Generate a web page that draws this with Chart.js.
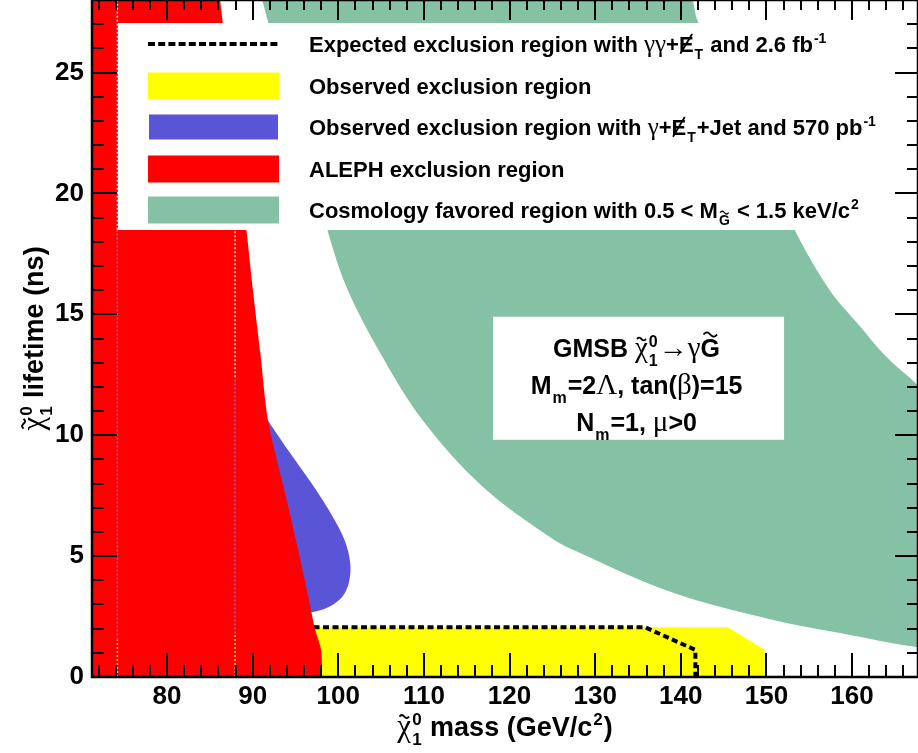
<!DOCTYPE html>
<html>
<head>
<meta charset="utf-8">
<script src="https://cdn.jsdelivr.net/npm/chart.js@4.4.0/dist/chart.umd.min.js"></script>
<style>
  html, body { margin: 0; padding: 0; background: #fff; }
  #wrap { width: 918px; height: 753px; }
</style>
</head>
<body>
<div id="wrap"><canvas id="limits"></canvas></div>
<script>
// ---- axes ----
const massRange = [71.24, 167.7];     // GeV/c^2
const lifetimeRange = [0, 28];        // ns
const massMajor = 10, massMinor = 2;
const lifeMajor = 5, lifeMinor = 1;

// ---- ALEPH exclusion: right-hand boundary, top to bottom ----
const alephMass     = [85.7, 86.2, 86.5, 89.3, 90.0, 90.9, 91.8, 94.0, 96.1, 97.3, 98.0, 98.1, 98.1];
const alephLifetime = [29.5, 28.0, 27.1, 18.4, 16.1, 13.4, 10.6, 7.3, 4.0, 1.95, 1.12, 0, -0.5];

// ---- gamma+MET+jet (570 pb-1) observed exclusion, outer boundary ----
const jetMass     = [91.8, 94.1, 96.9, 99.4, 100.8, 101.4, 101.3, 100.8, 100.0, 98.7, 97.05, 90.0, 90.0];
const jetLifetime = [10.6, 9.4, 8.0, 6.6, 5.6, 4.7, 4.0, 3.5, 3.15, 2.86, 2.69, 2.5, 10.6];

// ---- observed exclusion (yellow) ----
const observedMass     = [70, 70, 145.5, 149.8, 149.8];
const observedLifetime = [0, 2.06, 2.06, 1.12, 0];

// ---- expected exclusion, gamma gamma + MET 2.6 fb-1 (dashed) ----
const expectedMass     = [96.0, 135.8, 141.7, 141.7];
const expectedLifetime = [2.06, 2.06, 1.12, 0];

// ---- cosmology favoured band ----
const cosmoLowMass     = [91.1, 91.8, 98.8, 101.0, 104.9, 109.9, 116.9, 124.7, 127.4, 139.1, 150.8, 158.6, 168.0];
const cosmoLowLifetime = [28.02, 27.1, 18.4, 16.1, 13.4, 10.6, 7.86, 5.79, 5.26, 3.48, 2.36, 1.82, 1.22];
const cosmoHighMass     = [141.4, 142.0, 153.3, 157.4, 160.7, 163.85, 168.0];
const cosmoHighLifetime = [28.02, 27.1, 18.5, 16.0, 14.6, 13.3, 11.95];

// faint dotted guide lines inside the ALEPH area
const guideMass = [74.2, 87.95];
const guideSpans = [
    [[18.5, 28.0], [1.55, 18.5], [0, 1.55]],
    [[12.4, 18.5], [1.8, 12.4], [0, 1.8]]
];

const legendLabels = [
    [{t: 'Expected exclusion region with '}, {g: 'γγ'}, {t: '+'}, {t: 'E', slash: true, sub: 'T'}, {t: ' and 2.6 fb', sup: '-1'}],
    [{t: 'Observed exclusion region'}],
    [{t: 'Observed exclusion region with '}, {g: 'γ'}, {t: '+'}, {t: 'E', slash: true, sub: 'T'}, {t: '+Jet and 570 pb', sup: '-1'}],
    [{t: 'ALEPH exclusion region'}],
    [{t: 'Cosmology favored region with 0.5 < M', sub: 'G', subTilde: true}, {t: ' < 1.5 keV/c', sup: '2'}]
];
const modelLines = [
    [{t: 'GMSB '}, {g: 'χ', tilde: true, sup: '0', sub: '1'}, {g: '→γ'}, {t: 'G', tilde: true}],
    [{t: 'M', sub: 'm'}, {t: '=2'}, {g: 'Λ'}, {t: ', tan('}, {g: 'β'}, {t: ')=15'}],
    [{t: 'N', sub: 'm'}, {t: '=1, '}, {g: 'μ'}, {t: '>0'}]
];
const xTitle = [{g: 'χ', tilde: true, sup: '0', sub: '1'}, {t: ' mass (GeV/c', sup: '2'}, {t: ')'}];
const yTitle = [{g: 'χ', tilde: true, sup: '0', sub: '1'}, {t: ' lifetime (ns)'}];

const RED = '#ff0000', YELLOW = '#ffff00', BLUE = '#5a54d6', GREEN = '#85c1a4';
const SANS = '"Liberation Sans", Arial, Helvetica, sans-serif';
const SYM = '"Liberation Serif", "DejaVu Serif", serif';

const pts = (xs, ys) => xs.map((x, i) => ({x: x, y: ys[i]}));

function region(label, data, color, order, tension) {
    return { label, data, backgroundColor: color, borderColor: 'transparent',
             borderWidth: 0, fill: 'shape', order, tension };
}

// closing corners lie outside the visible frame
const alephPoly = pts(alephMass, alephLifetime).concat([{x: 60, y: -0.5}, {x: 60, y: 29.5}]);
const cosmoPoly = pts(cosmoLowMass, cosmoLowLifetime)
    .concat([{x: 200, y: 0}])
    .concat(pts(cosmoHighMass, cosmoHighLifetime).reverse());

const guideColors = ['rgba(255,255,255,0.85)', 'rgba(150,110,215,0.9)', 'rgba(255,235,0,0.95)'];
const guideSets = [];
guideMass.forEach((m, i) => {
    guideSpans[i].forEach((span, k) => {
        guideSets.push({ label: 'guide', data: [{x: m, y: span[0]}, {x: m, y: span[1]}],
            borderColor: guideColors[k], borderWidth: 1.5, borderDash: [2, 2], fill: false, order: 1 });
    });
});

const datasets = [
    region('Cosmology favored region', cosmoPoly, GREEN, 6, 0.35),
    region('Observed exclusion region', pts(observedMass, observedLifetime), YELLOW, 5, 0),
    { label: 'Expected exclusion region', data: pts(expectedMass, expectedLifetime), borderColor: '#000',
      borderWidth: 4, borderDash: [6, 3.5], fill: false, order: 4, tension: 0 },
    region('Observed exclusion region with jet', pts(jetMass, jetLifetime), BLUE, 3, 0.35),
    region('ALEPH exclusion region', alephPoly, RED, 2, 0.25)
].concat(guideSets);

// ---------- rich text (sub/superscripts, tilde, slash) ----------
function tildeMark(ctx, cx, cy, w, size) {
    ctx.save();
    ctx.lineWidth = Math.max(1.3, size * 0.07);
    ctx.strokeStyle = '#000';
    ctx.beginPath();
    const h = w * 0.16;
    for (let i = 0; i <= 12; i++) {
        const t = i / 12;
        const px = cx - w / 2 + t * w, py = cy - h * Math.sin(t * 2 * Math.PI);
        if (i === 0) ctx.moveTo(px, py); else ctx.lineTo(px, py);
    }
    ctx.stroke();
    ctx.restore();
}

function richRun(ctx, segs, x, y, size, draw) {
    let cx = x;
    const small = Math.round(size * 0.62);
    segs.forEach(s => {
        let w = 0;
        const greek = s.g !== undefined;
        const main = greek ? s.g : s.t;
        if (main !== undefined) {
            ctx.font = greek ? Math.round(size * 1.15) + 'px ' + SYM : 'bold ' + size + 'px ' + SANS;
            w = ctx.measureText(main).width;
            if (draw) {
                ctx.fillText(main, cx, y);
                if (s.slash) {
                    ctx.save();
                    ctx.lineWidth = size * 0.08;
                    ctx.beginPath();
                    ctx.moveTo(cx + w * 0.1, y + size * 0.08);
                    ctx.lineTo(cx + w * 0.9, y - size * 0.82);
                    ctx.stroke();
                    ctx.restore();
                }
                if (s.tilde) tildeMark(ctx, cx + w / 2, y - size * (greek ? 0.72 : 0.9), w * 0.7, size);
            }
        }
        let sw = 0;
        ctx.font = 'bold ' + small + 'px ' + SANS;
        if (s.sup) {
            const m = ctx.measureText(s.sup).width;
            sw = Math.max(sw, m);
            if (draw) ctx.fillText(s.sup, cx + w + 1, y - size * 0.42);
        }
        if (s.sub) {
            const m = ctx.measureText(s.sub).width;
            sw = Math.max(sw, m);
            if (draw) {
                ctx.fillText(s.sub, cx + w + 1, y + size * 0.34);
                if (s.subTilde) tildeMark(ctx, cx + w + 1 + m / 2, y + size * 0.34 - small * 0.92, m * 0.8, small);
            }
        }
        cx += w + (sw ? sw + 2 : 0);
    });
    return cx - x;
}

function drawRich(ctx, segs, x, y, size, align) {
    ctx.save();
    ctx.fillStyle = '#000';
    ctx.strokeStyle = '#000';
    ctx.textBaseline = 'alphabetic';
    ctx.textAlign = 'left';
    const w = richRun(ctx, segs, 0, 0, size, false);
    const x0 = align === 'center' ? x - w / 2 : x;
    richRun(ctx, segs, x0, y, size, true);
    ctx.restore();
}

// ---------- ROOT-like frame, legend and labels ----------
const rootStyle = {
    id: 'rootStyle',
    afterDatasetsDraw(chart) {
        const {ctx, chartArea: a, scales: {x, y}} = chart;
        ctx.save();

        // legend box
        ctx.fillStyle = '#fff';
        ctx.fillRect(118, 23, a.right - 118, 207);
        const rowY = [44, 86, 127, 169, 210];
        const swX = 148, swW = 131;
        ctx.strokeStyle = '#000';
        ctx.lineWidth = 4;
        ctx.setLineDash([7, 3.2]);
        ctx.beginPath();
        ctx.moveTo(swX, rowY[0]);
        ctx.lineTo(swX + swW, rowY[0]);
        ctx.stroke();
        ctx.setLineDash([]);
        const swColors = [null, YELLOW, BLUE, RED, GREEN];
        swColors.forEach((c, i) => {
            if (!c) return;
            const h = c === BLUE ? 25 : 27;
            ctx.fillStyle = c;
            ctx.fillRect(c === BLUE ? swX + 1 : swX, rowY[i] - h / 2, c === BLUE ? swW - 2 : swW, h);
        });
        legendLabels.forEach((segs, i) => drawRich(ctx, segs, 309, rowY[i] + 8, 22, 'left'));

        // model text box
        const bx0 = x.getPixelForValue(118.07), bx1 = x.getPixelForValue(152.06);
        const by0 = y.getPixelForValue(14.9), by1 = y.getPixelForValue(9.81);
        ctx.fillStyle = '#fff';
        ctx.fillRect(bx0, by0, bx1 - bx0, by1 - by0);
        const midX = (bx0 + bx1) / 2 - 2;
        [357, 394, 431].forEach((by, i) => drawRich(ctx, modelLines[i], midX, by, 25, 'center'));

        // inward ticks
        ctx.strokeStyle = '#000';
        ctx.lineWidth = 2;
        ctx.beginPath();
        const x0 = Math.ceil(x.min / massMinor);
        for (let i = x0; i * massMinor <= x.max; i++) {
            const v = i * massMinor;
            const px = Math.round(x.getPixelForValue(v));
            const major = v % massMajor === 0;
            ctx.moveTo(px, a.bottom); ctx.lineTo(px, a.bottom - (major ? 24 : 12));
            ctx.moveTo(px, a.top); ctx.lineTo(px, a.top + (major ? 20 : 10));
        }
        for (let v = lifetimeRange[0]; v <= y.max; v += lifeMinor) {
            const py = Math.round(y.getPixelForValue(v));
            const major = v % lifeMajor === 0;
            ctx.moveTo(a.left, py); ctx.lineTo(a.left + (major ? 25 : 12), py);
            ctx.moveTo(a.right, py); ctx.lineTo(a.right - (major ? 23 : 11), py);
        }
        ctx.stroke();
        ctx.lineWidth = 2.5;
        ctx.strokeRect(a.left, a.top, a.right - a.left, a.bottom - a.top);
        ctx.restore();
    },
    afterDraw(chart) {
        const {ctx, chartArea: a} = chart;
        drawRich(ctx, xTitle, (a.left + a.right) / 2, 736, 27, 'center');
        ctx.save();
        ctx.translate(43, (a.top + a.bottom) / 2);
        ctx.rotate(-Math.PI / 2);
        drawRich(ctx, yTitle, 0, 0, 27, 'center');
        ctx.restore();
    }
};

const tickFont = { family: SANS, size: 26, weight: 'bold' };

new Chart(document.getElementById('limits'), {
    type: 'line',
    data: { datasets },
    options: {
        responsive: true,
        maintainAspectRatio: false,
        animation: false,
        devicePixelRatio: 1,
        events: [],
        layout: { padding: 0 },
        elements: { point: { radius: 0, hoverRadius: 0 }, line: { capBezierPoints: false } },
        plugins: { legend: { display: false }, tooltip: { enabled: false } },
        scales: {
            x: {
                type: 'linear', min: massRange[0], max: massRange[1],
                ticks: { stepSize: massMajor, includeBounds: false, padding: 4, color: '#000', font: tickFont, maxRotation: 0, autoSkip: false },
                grid: { display: false, drawTicks: false },
                border: { display: false },
                afterFit: s => { s.height = 76; s.paddingLeft = 0; s.paddingRight = 0; }
            },
            y: {
                type: 'linear', min: lifetimeRange[0], max: lifetimeRange[1],
                ticks: { stepSize: lifeMajor, includeBounds: false, padding: 8, color: '#000', font: tickFont },
                grid: { display: false, drawTicks: false },
                border: { display: false },
                afterFit: s => { s.width = 92; s.paddingTop = 0; s.paddingBottom = 0; }
            }
        }
    },
    plugins: [rootStyle]
});
</script>
</body>
</html>
